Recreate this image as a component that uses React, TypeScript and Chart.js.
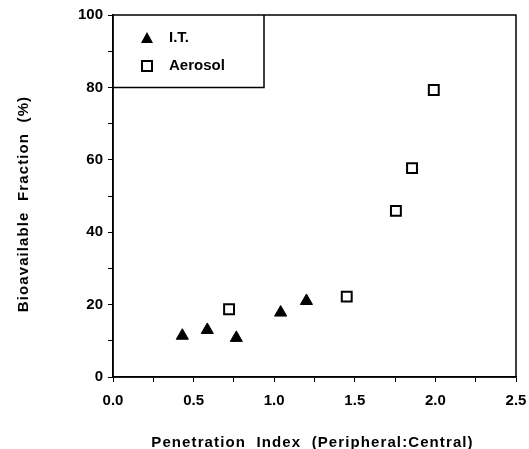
import React, { useEffect, useRef } from "react";
import { Chart, registerables } from "chart.js";

Chart.register(...registerables);

const itX = [0.43, 0.585, 0.765, 1.04, 1.2];
const itY = [11.4, 13.0, 10.8, 17.8, 21.0];
const aerosolX = [0.72, 1.45, 1.755, 1.855, 1.99];
const aerosolY = [18.7, 22.2, 45.9, 57.7, 79.3];
const seriesNames = ["I.T.", "Aerosol"];
const xTitle = "Penetration  Index  (Peripheral:Central)";
const yTitle = "Bioavailable  Fraction  (%)";

const FONT = "'Liberation Sans', Arial, sans-serif";

const framePlugin = {
  id: "frame",
  afterDraw(chart: any) {
    const { ctx, chartArea } = chart;
    const { left, top, right, bottom } = chartArea;
    ctx.save();
    ctx.strokeStyle = "#000";
    ctx.lineWidth = 1.5;
    ctx.strokeRect(left, top, right - left, bottom - top);
    // legend box
    const yS = chart.scales.y;
    const bx = left + 151;
    const by = yS.getPixelForValue(80);
    ctx.beginPath();
    ctx.moveTo(bx, top);
    ctx.lineTo(bx, by);
    ctx.lineTo(left, by);
    ctx.stroke();
    // legend entries
    const mx = left + 34;
    const tx = left + 56;
    const y1 = top + 23;
    const y2 = top + 51;
    ctx.fillStyle = "#000";
    ctx.beginPath();
    ctx.moveTo(mx, y1 - 6);
    ctx.lineTo(mx + 6, y1 + 5);
    ctx.lineTo(mx - 6, y1 + 5);
    ctx.closePath();
    ctx.fill();
    ctx.lineWidth = 2;
    ctx.strokeRect(mx - 5, y2 - 5, 10, 10);
    ctx.font = `bold 15px ${FONT}`;
    ctx.textBaseline = "middle";
    ctx.textAlign = "left";
    ctx.fillText(seriesNames[0], tx, y1);
    ctx.fillText(seriesNames[1], tx, y2);

    // axis titles
    (ctx as any).letterSpacing = "1.1px";
    ctx.font = `bold 15px ${FONT}`;
    ctx.textAlign = "center";
    ctx.textBaseline = "alphabetic";
    ctx.fillText(xTitle, (left + right) / 2 - 2, 447);
    ctx.translate(28, (top + bottom) / 2 + 8);
    ctx.rotate(-Math.PI / 2);
    ctx.fillText(yTitle, 0, 0);
    ctx.restore();
  },
};

export default function App() {
  const ref = useRef<HTMLCanvasElement>(null);
  useEffect(() => {
    if (!ref.current) return;
    const chart = new Chart(ref.current, {
      type: "scatter",
      data: {
        datasets: [
          {
            label: seriesNames[0],
            data: itX.map((x, i) => ({ x, y: itY[i] })),
            pointStyle: "triangle",
            pointRadius: 7,
            backgroundColor: "#000",
            borderColor: "#000",
            borderWidth: 1,
          },
          {
            label: seriesNames[1],
            data: aerosolX.map((x, i) => ({ x, y: aerosolY[i] })),
            pointStyle: "rect",
            pointRadius: 7,
            backgroundColor: "#fff",
            borderColor: "#000",
            borderWidth: 2,
          },
        ],
      },
      options: {
        animation: false,
        responsive: false,
        maintainAspectRatio: false,
        layout: { padding: { left: 0, top: 15, right: 13, bottom: 0 } },
        plugins: { legend: { display: false }, tooltip: { enabled: false } },
        scales: {
          x: {
            type: "linear",
            min: 0,
            max: 2.5,
            afterFit(s: any) {
              s.height = 72;
              s.paddingLeft = 0;
              s.paddingRight = 0;
            },
            border: { display: true, color: "#000", width: 1.5 },
            grid: { drawOnChartArea: false, drawTicks: true, tickLength: 5, color: "#000" },
            ticks: {
              stepSize: 0.25,
              autoSkip: false,
              maxRotation: 0,
              color: "#000",
              padding: 10,
              font: { family: FONT, size: 15, weight: "bold" },
              callback: (v: any) => (Math.abs(v * 2 - Math.round(v * 2)) < 1e-6 ? Number(v).toFixed(1) : ""),
            },
            title: { display: false },
          },
          y: {
            type: "linear",
            min: 0,
            max: 100,
            afterFit(s: any) {
              s.width = 113;
              s.paddingTop = 0;
              s.paddingBottom = 0;
            },
            border: { display: true, color: "#000", width: 1.5 },
            grid: { drawOnChartArea: false, drawTicks: true, tickLength: 5, color: "#000" },
            ticks: {
              stepSize: 10,
              autoSkip: false,
              color: "#000",
              padding: 5,
              font: { family: FONT, size: 15, weight: "bold" },
              callback: (v: any) => (Math.round(v) % 20 === 0 ? String(Math.round(v)) : ""),
            },
            title: { display: false },
          },
        },
      },
      plugins: [framePlugin],
    });
    return () => chart.destroy();
  }, []);
  return (
    <div style={{ position: "fixed", left: 0, top: 0, width: 529, height: 449, background: "#fff" }}>
      <canvas ref={ref} width={529} height={449} style={{ width: 529, height: 449 }} />
    </div>
  );
}
